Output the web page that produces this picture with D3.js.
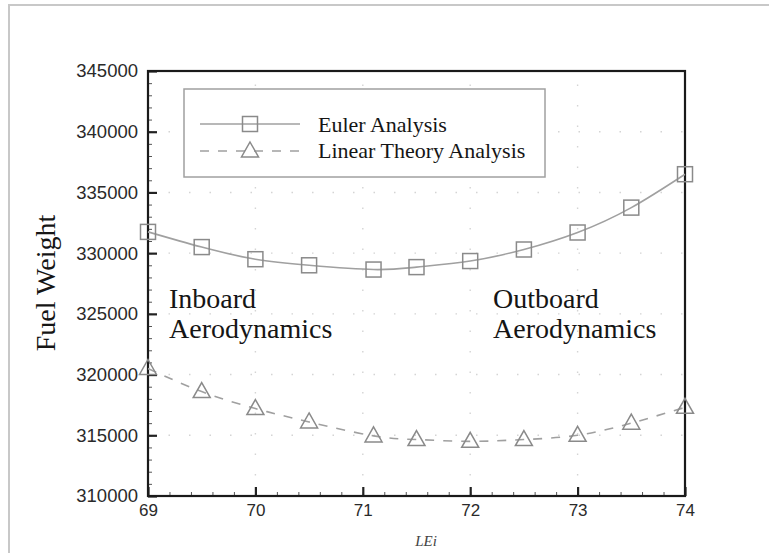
<!DOCTYPE html>
<html>
<head>
<meta charset="utf-8">
<script src="https://cdn.jsdelivr.net/npm/d3@7"></script>
<style>
  body { margin: 0; background: #fff; }
  svg { display: block; }
</style>
</head>
<body>
<svg id="chart" width="769" height="553"></svg>
<script>
// LEi values
const lei = [69, 69.5, 70, 70.5, 71.1, 71.5, 72, 72.5, 73, 73.5, 74];
const eulerFuel = [331750, 330500, 329500, 329000, 328650, 328850, 329350, 330300, 331700, 333750, 336500];
const linearFuel = [320500, 318600, 317200, 316100, 314950, 314650, 314500, 314650, 315000, 316000, 317300];

const xTicks = [69, 70, 71, 72, 73, 74];
const yTicks = [310000, 315000, 320000, 325000, 330000, 335000, 340000, 345000];
const seriesNames = ["Euler Analysis", "Linear Theory Analysis"];

const svg = d3.select("#chart");

// outer frame of the figure (only top/left edges show)
svg.append("rect")
    .attr("x", 9).attr("y", 5)
    .attr("width", 800).attr("height", 600)
    .attr("fill", "none").attr("stroke", "#c8c8c8").attr("stroke-width", 2);

const x = d3.scaleLinear().domain([69, 74]).range([148, 685]);
const y = d3.scaleLinear().domain([310000, 345000]).range([496, 71]);

// faint dotted grid at major ticks
const grid = svg.append("g").attr("stroke", "#d4d4d4").attr("stroke-width", 1.4)
    .attr("stroke-dasharray", "1.5,19");
xTicks.slice(1, -1).forEach(v => {
    grid.append("line").attr("x1", x(v)).attr("x2", x(v)).attr("y1", y(310000)).attr("y2", y(345000));
});
yTicks.slice(1, -1).forEach(v => {
    grid.append("line").attr("x1", x(69)).attr("x2", x(74)).attr("y1", y(v)).attr("y2", y(v));
});

// axes - ticks point inward
const tickFont = "'Liberation Sans', Arial, sans-serif";

const yMinor = svg.append("g").attr("transform", `translate(${x(69)},0)`)
    .call(d3.axisLeft(y).tickValues(d3.range(310000, 345001, 1000)).tickSize(-4).tickFormat(""));
const yMajor = svg.append("g").attr("transform", `translate(${x(69)},0)`)
    .call(d3.axisLeft(y).tickValues(yTicks).tickSize(-9).tickPadding(10).tickFormat(d3.format("d")));
const xMinor = svg.append("g").attr("transform", `translate(0,${y(310000)})`)
    .call(d3.axisBottom(x).tickValues(d3.range(69, 74.01, 0.2)).tickSize(-4).tickFormat(""));
const xMajor = svg.append("g").attr("transform", `translate(0,${y(310000)})`)
    .call(d3.axisBottom(x).tickValues(xTicks).tickSize(-9).tickPadding(8).tickFormat(d3.format("d")));

[yMinor, yMajor, xMinor, xMajor].forEach(g => {
    g.select(".domain").remove();
    g.selectAll(".tick line").attr("stroke", "#222").attr("stroke-width", 1.3);
    g.selectAll("text").attr("font-family", tickFont).attr("font-size", 17).attr("fill", "#2a2a2a");
});
yMajor.selectAll("text").attr("font-size", 18.5);
yMinor.selectAll(".tick line").attr("stroke", "#555").attr("stroke-width", 1);
xMinor.selectAll(".tick line").attr("stroke", "#555").attr("stroke-width", 1);
yMajor.selectAll(".tick line").attr("stroke-width", 2.2);
xMajor.selectAll(".tick line").attr("stroke-width", 2.2);

// plot frame
svg.append("rect")
    .attr("x", x(69)).attr("y", y(345000))
    .attr("width", x(74) - x(69)).attr("height", y(310000) - y(345000))
    .attr("fill", "none").attr("stroke", "#1a1a1a").attr("stroke-width", 2.2);

// curves
const line = d3.line().curve(d3.curveNatural);
const eulerPts = lei.map((d, i) => [x(d), y(eulerFuel[i])]);
const linearPts = lei.map((d, i) => [x(d), y(linearFuel[i])]);

svg.append("path").attr("d", line(eulerPts))
    .attr("fill", "none").attr("stroke", "#a0a0a0").attr("stroke-width", 1.6);
svg.append("path").attr("d", line(linearPts))
    .attr("fill", "none").attr("stroke", "#a0a0a0").attr("stroke-width", 1.6)
    .attr("stroke-dasharray", "9,9");

const sym = 15;
function square(g, cx, cy) {
    g.append("rect").attr("x", cx - sym / 2).attr("y", cy - sym / 2)
        .attr("width", sym).attr("height", sym)
        .attr("fill", "none").attr("stroke", "#8a8a8a").attr("stroke-width", 1.5);
}
function triangle(g, cx, cy) {
    const h = 15, w = 17;
    g.append("path")
        .attr("d", `M${cx},${cy - h * 0.6}L${cx + w / 2},${cy + h * 0.4}L${cx - w / 2},${cy + h * 0.4}Z`)
        .attr("fill", "none").attr("stroke", "#8a8a8a").attr("stroke-width", 1.5);
}

const markers = svg.append("g");
eulerPts.forEach(p => square(markers, p[0], p[1]));
linearPts.forEach(p => triangle(markers, p[0], p[1]));

// legend
const serif = "'Liberation Serif', 'Times New Roman', serif";
const leg = svg.append("g");
leg.append("rect").attr("x", 184).attr("y", 89).attr("width", 361).attr("height", 88)
    .attr("fill", "#fff").attr("stroke", "#a0a0a0").attr("stroke-width", 1.5);
leg.append("line").attr("x1", 200).attr("x2", 300).attr("y1", 124).attr("y2", 124)
    .attr("stroke", "#a0a0a0").attr("stroke-width", 1.6);
square(leg, 250, 124);
leg.append("line").attr("x1", 200).attr("x2", 300).attr("y1", 151).attr("y2", 151)
    .attr("stroke", "#a0a0a0").attr("stroke-width", 1.6).attr("stroke-dasharray", "9,9");
triangle(leg, 250, 151);
seriesNames.forEach((name, i) => {
    leg.append("text").attr("x", 318).attr("y", 132 + i * 26)
        .attr("font-family", serif).attr("font-size", 22).attr("fill", "#151515")
        .text(name);
});

// annotations
const notes = [
    { x: 169, lines: ["Inboard", "Aerodynamics"] },
    { x: 493, lines: ["Outboard", "Aerodynamics"] }
];
notes.forEach(n => {
    n.lines.forEach((t, i) => {
        svg.append("text").attr("x", n.x).attr("y", 308 + i * 30)
            .attr("font-family", serif).attr("font-size", 28).attr("fill", "#151515")
            .text(t);
    });
});

// axis titles
svg.append("text")
    .attr("transform", "translate(55,283) rotate(-90)")
    .attr("text-anchor", "middle")
    .attr("font-family", serif).attr("font-size", 28).attr("fill", "#151515")
    .text("Fuel Weight");
svg.append("text")
    .attr("x", 426).attr("y", 546).attr("text-anchor", "middle")
    .attr("font-family", serif).attr("font-style", "italic").attr("font-size", 15).attr("fill", "#444")
    .text("LEi");
</script>
</body>
</html>
